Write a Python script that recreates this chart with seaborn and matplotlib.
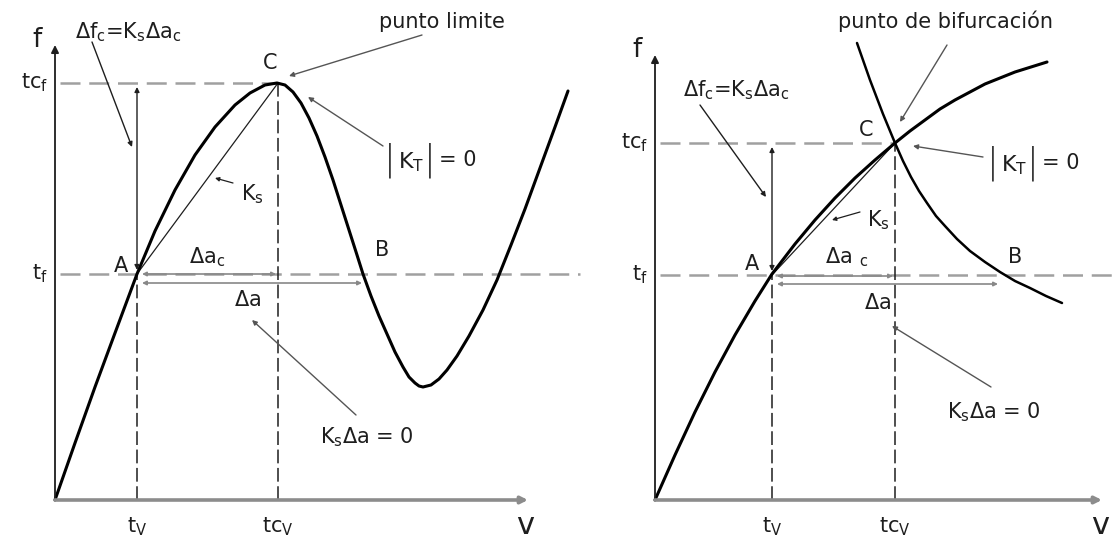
import matplotlib
matplotlib.use("Agg")
import matplotlib.pyplot as plt
import pandas as pd
import seaborn as sns

# ---------------- left diagram: limit point ----------------
left_v = [0, 20, 40, 60, 82, 100, 120, 140, 160, 180, 195, 210, 222,
          230, 238, 246, 254, 262, 270, 278, 286, 294, 302, 308,
          316, 324, 332, 340, 348, 354, 360, 364, 368,
          376, 384, 392, 402, 414, 428, 442, 456, 470, 485, 500, 513]
left_f = [0, 57, 113, 167, 226, 269, 310, 345, 373, 395, 407, 415, 417,
          415, 408, 397, 382, 364, 343, 320, 295, 270, 245, 226,
          204, 184, 166, 148, 133, 123, 117, 114, 113,
          115, 121, 130, 144, 164, 190, 220, 255, 291, 332, 373, 409]
left_tv, left_tcv = 82, 223
left_tf, left_tcf = 226, 417

# ---------------- right diagram: bifurcation point ----------------
right_main_v = [0, 20, 40, 60, 80, 100, 117, 140, 160, 180, 200, 220, 240,
                255, 270, 285, 300, 315, 330, 345, 360, 376, 392]
right_main_f = [0, 45, 88, 128, 165, 199, 226, 256, 280, 302, 322, 340, 357,
                369, 380, 391, 400, 408, 416, 422, 428, 433, 438]
right_branch_v = [202, 215, 228, 240, 248, 256, 264, 272, 281, 290, 302, 315,
                  330, 345, 360, 375, 391, 407]
right_branch_f = [457, 420, 386, 357, 339, 323, 309, 297, 284, 274, 261, 249,
                  238, 228, 219, 212, 204, 197]
right_tv, right_tcv = 117, 240
right_tf, right_tcf = 225, 357

# label texts
TXT_DFC = r"$\Delta$f$_c$=K$_s\Delta$a$_c$"
TXT_KSDA = r"K$_s\Delta$a = 0"

sns.set_theme(style="white")
plt.rcParams["font.family"] = ["DejaVu Sans"]
plt.rcParams["mathtext.default"] = "regular"
plt.rcParams["mathtext.fontset"] = "dejavusans"

INK = "#1e1e1e"
GREY = "#a0a0a0"
FS = 15

W, H = 1115, 547
fig = plt.figure(figsize=(W / 100, H / 100), dpi=100)
fig.patch.set_facecolor("white")


def panel_axes():
    ax = fig.add_axes([0, 0, 1, 1])
    ax.patch.set_alpha(0)
    return ax


def limits(ax, x0, y0):
    ax.set_xlim(-x0, W - x0)
    ax.set_ylim(-(H - y0), y0)
    ax.axis("off")


def arrow(ax, start, tip, color=INK, lw=1.0, style="-|>", ms=9):
    ax.annotate("", xy=tip, xytext=start,
                arrowprops=dict(arrowstyle=style, color=color, lw=lw,
                                mutation_scale=ms, shrinkA=0, shrinkB=0))


def curve(ax, v, f, lw):
    sns.lineplot(data=pd.DataFrame({"v": v, "f": f}), x="v", y="f",
                 sort=False, estimator=None, color="black", lw=lw, ax=ax,
                 solid_joinstyle="round", solid_capstyle="round")


def tangent_norm(ax, x, y):
    # |K_T| = 0 with tall bars
    ax.text(x, y, "|", ha="center", va="center", fontsize=25, color=INK, fontweight="light")
    ax.text(x + 8, y - 2, r"K$_T$", ha="left", va="center", fontsize=16, color=INK)
    ax.text(x + 40, y, "|", ha="center", va="center", fontsize=25, color=INK, fontweight="light")
    ax.text(x + 49, y, "= 0", ha="left", va="center", fontsize=FS, color=INK)


def frame(ax, ytop, xend, tv, tcv, tf, tcf, tf_end, vlab_x):
    # axes with arrow heads
    arrow(ax, (0, 0), (0, ytop), color=INK, lw=1.3, ms=11)
    arrow(ax, (0, 0), (xend, 0), color="#8c8c8c", lw=2.6, ms=10)
    # reference levels
    ax.plot([5, tcv], [tcf, tcf], color=GREY, lw=1.8, dashes=(8, 3.5))
    ax.plot([5, tf_end], [tf, tf], color=GREY, lw=1.8, dashes=(8, 3.5))
    ax.plot([tv, tv], [0, tf], color=INK, lw=1.1, dashes=(9, 3))
    ax.plot([tcv, tcv], [0, tcf], color=INK, lw=1.1, dashes=(9, 3))
    # secant stiffness between A and C
    ax.plot([tv, tcv], [tf, tcf], color=INK, lw=0.9)
    # vertical increment arrow
    arrow(ax, (tv, tf + 4), (tv, tcf - 4), style="<|-|>", lw=1.0, ms=7)
    # tick-like labels
    ax.text(-7, tcf, r"tc$_f$", ha="right", va="center", fontsize=FS, color=INK)
    ax.text(-7, tf, r"t$_f$", ha="right", va="center", fontsize=FS, color=INK)
    ax.text(tv, -27, r"t$_V$", ha="center", va="center", fontsize=FS, color=INK)
    ax.text(tcv, -27, r"tc$_V$", ha="center", va="center", fontsize=FS, color=INK)
    ax.text(vlab_x, -25, "v", ha="center", va="center", fontsize=22, color=INK)
    ax.text(-18, ytop + 5, "f", ha="center", va="center", fontsize=19, color=INK)


# ---------------- left panel ----------------
axl = panel_axes()
frame(axl, 455, 473, left_tv, left_tcv, left_tf, left_tcf, 525, 470)
curve(axl, left_v, left_f, 2.2)
limits(axl, 55, 500)

arrow(axl, (left_tv + 5, left_tf), (left_tcv - 2, left_tf), color="#888888", style="<|-|>", lw=1.2, ms=6)
arrow(axl, (left_tv + 5, left_tf - 9), (307, left_tf - 9), color="#888888", style="<|-|>", lw=1.2, ms=6)

axl.text(20, 468, TXT_DFC, ha="left", va="center", fontsize=FS, color=INK)
axl.text(387, 478, "punto limite", ha="center", va="center", fontsize=FS, color=INK)
axl.text(215, 437, "C", ha="center", va="center", fontsize=FS, color=INK)
tangent_norm(axl, 335, 340)
axl.text(197, 306, r"K$_s$", ha="center", va="center", fontsize=FS, color=INK)
axl.text(66, 234, "A", ha="center", va="center", fontsize=FS, color=INK)
axl.text(327, 250, "B", ha="center", va="center", fontsize=FS, color=INK)
axl.text(152, 243, r"$\Delta$a$_c$", ha="center", va="center", fontsize=FS, color=INK)
axl.text(193, 200, r"$\Delta$a", ha="center", va="center", fontsize=FS, color=INK)
axl.text(265, 63, TXT_KSDA, ha="left", va="center", fontsize=FS, color=INK)

arrow(axl, (37, 458), (77, 353), lw=1.0, ms=7)
arrow(axl, (367, 465), (234, 424), color="#555555", lw=1.0, ms=7)
arrow(axl, (328, 354), (253, 403), color="#555555", lw=1.0, ms=7)
arrow(axl, (178, 317), (160, 322), lw=0.9, ms=6)
arrow(axl, (301, 85), (197, 180), color="#555555", lw=1.0, ms=7)

# ---------------- right panel ----------------
axr = panel_axes()
frame(axr, 445, 447, right_tv, right_tcv, right_tf, right_tcf, 460, 445)
curve(axr, right_main_v, right_main_f, 2.2)
curve(axr, right_branch_v, right_branch_f, 1.8)
limits(axr, 655, 500)

arrow(axr, (right_tv + 5, right_tf - 1), (right_tcv - 2, right_tf - 1), color="#888888", style="<|-|>", lw=1.2, ms=6)
arrow(axr, (right_tv + 5, right_tf - 9), (343, right_tf - 9), color="#888888", style="<|-|>", lw=1.2, ms=6)

axr.text(28, 410, TXT_DFC, ha="left", va="center", fontsize=FS, color=INK)
axr.text(291, 479, "punto de bifurcación", ha="center", va="center", fontsize=FS, color=INK)
axr.text(211, 370, "C", ha="center", va="center", fontsize=FS, color=INK)
tangent_norm(axr, 338, 337)
axr.text(223, 280, r"K$_s$", ha="center", va="center", fontsize=FS, color=INK)
axr.text(97, 236, "A", ha="center", va="center", fontsize=FS, color=INK)
axr.text(360, 243, "B", ha="center", va="center", fontsize=FS, color=INK)
axr.text(192, 243, r"$\Delta$a$\ _c$", ha="center", va="center", fontsize=FS, color=INK)
axr.text(223, 197, r"$\Delta$a", ha="center", va="center", fontsize=FS, color=INK)
axr.text(292, 88, TXT_KSDA, ha="left", va="center", fontsize=FS, color=INK)

arrow(axr, (45, 395), (111, 303), lw=1.0, ms=7)
arrow(axr, (292, 455), (245, 378), color="#555555", lw=1.0, ms=7)
arrow(axr, (328, 343), (258, 354), color="#555555", lw=1.0, ms=7)
arrow(axr, (205, 288), (177, 280), lw=0.9, ms=6)
arrow(axr, (336, 113), (237, 174), color="#555555", lw=1.0, ms=7)

fig.savefig("out.png", dpi=100, facecolor="white")
